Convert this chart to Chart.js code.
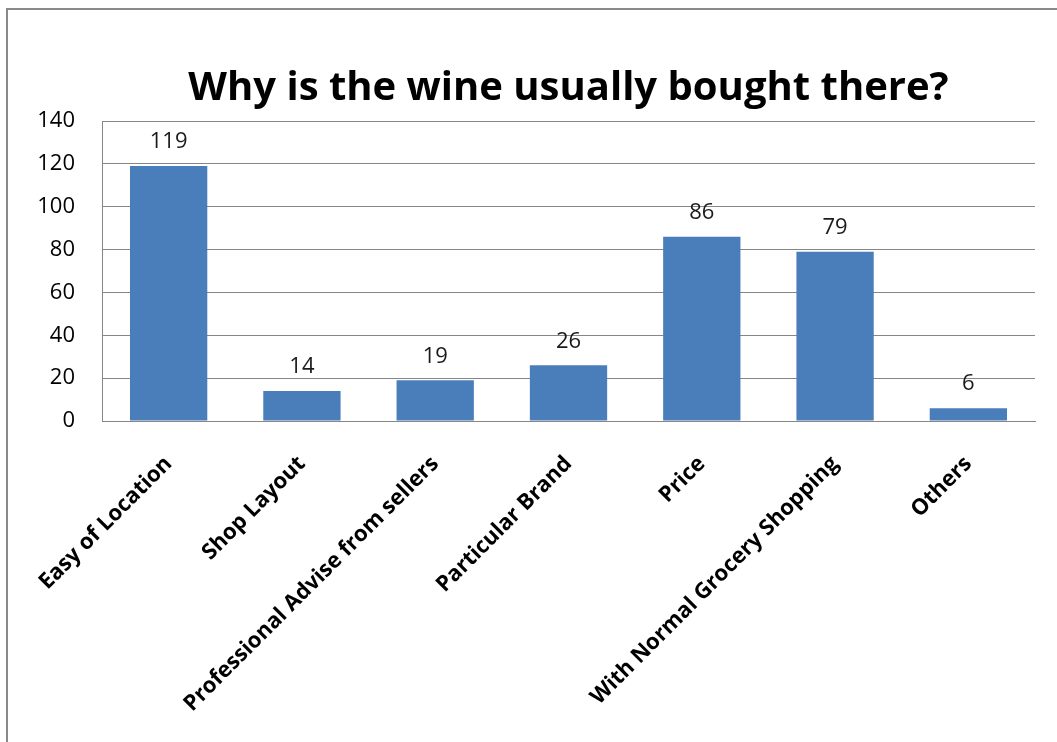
<!DOCTYPE html>
<html>
<head>
<meta charset="utf-8">
<title>Why is the wine usually bought there?</title>
<script src="https://cdn.jsdelivr.net/npm/chart.js@4.4.0/dist/chart.umd.min.js"></script>
<style>
    html, body { margin: 0; padding: 0; background: #fff; overflow: hidden; }
    .chart-wrap { position: relative; width: 1057px; height: 742px; }
    .chart-wrap canvas { position: absolute; left: 0; top: 0; }
    /* chart frame, runs off the right and bottom edges */
    .frame {
        position: absolute; left: 6px; top: 8px; width: 1200px; height: 900px;
        border-left: 2px solid #8a8a8a; border-top: 2px solid #8a8a8a;
        pointer-events: none;
    }
</style>
</head>
<body>
<div class="chart-wrap">
    <canvas id="reasonChart" width="1057" height="742"></canvas>
    <div class="frame"></div>
</div>
<script>
// Survey data
const chartTitle = 'Why is the wine usually bought there?';
const reasons = [
    'Easy of Location',
    'Shop Layout',
    'Professional Advise from sellers',
    'Particular Brand',
    'Price',
    'With Normal Grocery Shopping',
    'Others'
];
const respondents = [119, 14, 19, 26, 86, 79, 6];
const yTicks = [0, 20, 40, 60, 80, 100, 120, 140];

const FONT = '"Open Sans", "Noto Sans", sans-serif';
const BAR_BLUE = '#4a7ebb';
const GRID_GREY = '#868686';

// Title centred over the plot area
const plotTitle = {
    id: 'plotTitle',
    afterDraw(chart) {
        const { ctx, chartArea } = chart;
        ctx.save();
        ctx.font = `bold 40px ${FONT}`;
        ctx.fillStyle = '#000';
        ctx.textAlign = 'center';
        ctx.textBaseline = 'alphabetic';
        ctx.fillText(chartTitle, (chartArea.left + chartArea.right) / 2, chartArea.top - 21);
        ctx.restore();
    }
};

// Value above each bar
const valueLabels = {
    id: 'valueLabels',
    afterDatasetsDraw(chart) {
        const { ctx } = chart;
        const meta = chart.getDatasetMeta(0);
        ctx.save();
        ctx.font = `22px ${FONT}`;
        ctx.fillStyle = '#1a1a1a';
        ctx.textAlign = 'center';
        ctx.textBaseline = 'middle';
        meta.data.forEach((bar, i) => {
            ctx.fillText(String(respondents[i]), bar.x, bar.y - 24);
        });
        ctx.restore();
    }
};

const initReasonChart = () => {
    const canvas = document.getElementById('reasonChart');
    if (!canvas || typeof Chart === 'undefined') return;

    new Chart(canvas, {
        type: 'bar',
        data: {
            labels: reasons,
            datasets: [{
                data: respondents,
                backgroundColor: BAR_BLUE,
                borderWidth: 0,
                barPercentage: 0.58,
                categoryPercentage: 1
            }]
        },
        options: {
            responsive: false,
            animation: false,
            layout: { padding: { top: 121, right: 22, bottom: 0, left: 0 } },
            plugins: {
                legend: { display: false },
                tooltip: { enabled: false },
                title: { display: false }
            },
            scales: {
                x: {
                    grid: { display: false, drawTicks: false },
                    border: { display: true, color: GRID_GREY, width: 1 },
                    ticks: {
                        color: '#000',
                        font: { family: FONT, size: 22, weight: 'bold' },
                        minRotation: 45,
                        maxRotation: 45,
                        autoSkip: false,
                        padding: 30
                    },
                    afterFit: (scale) => { scale.height = 321; }
                },
                y: {
                    min: yTicks[0],
                    max: yTicks[yTicks.length - 1],
                    grid: { color: GRID_GREY, lineWidth: 1, drawTicks: false },
                    border: { display: true, color: GRID_GREY, width: 1 },
                    ticks: {
                        stepSize: yTicks[1] - yTicks[0],
                        color: '#000',
                        font: { family: FONT, size: 22 },
                        padding: 27
                    },
                    afterFit: (scale) => { scale.width = 102; }
                }
            }
        },
        plugins: [plotTitle, valueLabels]
    });
};

document.addEventListener('DOMContentLoaded', initReasonChart);
</script>
</body>
</html>
